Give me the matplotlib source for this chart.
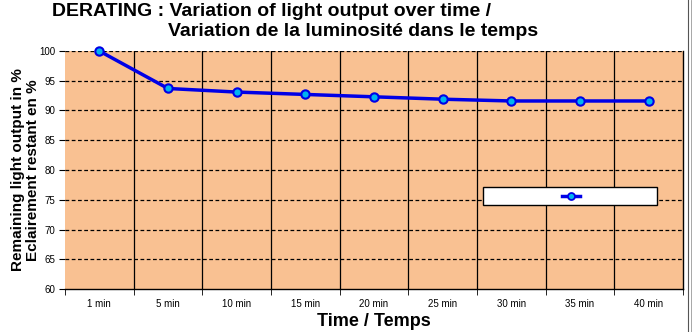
import matplotlib
matplotlib.use("Agg")
import matplotlib.pyplot as plt
from matplotlib.lines import Line2D
from matplotlib.patches import Rectangle
import numpy as np

categories = ["1 min", "5 min", "10 min", "15 min", "20 min", "25 min", "30 min", "35 min", "40 min"]
values = [100, 93.7, 93.1, 92.7, 92.3, 91.9, 91.6, 91.6, 91.6]
yticks = [60, 65, 70, 75, 80, 85, 90, 95, 100]

plt.rcParams['font.family'] = ['Liberation Sans', 'DejaVu Sans']

fig = plt.figure(figsize=(6.92, 3.32), dpi=100)
W, H = 692, 332
ax = fig.add_axes([65/W, 43/H, 618/W, 238/H])
ax.set_facecolor('#F9C192')

x = np.arange(len(categories))
ax.set_xlim(-0.5, len(categories) - 0.5)
ax.set_ylim(60, 100)

# gridlines
for yt in yticks[1:]:
    ax.axhline(yt, color='black', lw=0.9, ls=(0, (3, 2)), zorder=1)
for b in np.arange(0.5, len(categories) - 0.5, 1):
    ax.axvline(b, color='black', lw=0.9, zorder=1)

ax.plot(x, values, color='#0000E6', lw=2.5, marker='o', ms=6,
        markerfacecolor='#00B4F0', markeredgecolor='#0000E6', markeredgewidth=1.5,
        zorder=3, clip_on=False)

ax.set_yticks(yticks)
ax.set_yticklabels([str(v) for v in yticks], fontsize=7)
ax.set_xticks(x)
ax.set_xticklabels(categories, fontsize=7)
ax.tick_params(axis='x', length=0, pad=7)
ax.set_xticks(np.arange(-0.5, len(categories), 1), minor=True)
ax.tick_params(axis='x', which='minor', length=4, direction='out', color='black')
ax.tick_params(axis='y', length=4, direction='out', pad=3)

ax.spines['top'].set_visible(False)
ax.spines['left'].set_visible(False)
ax.spines['right'].set_color('black')
ax.spines['right'].set_linewidth(1.0)
ax.spines['bottom'].set_linewidth(1.0)

ax.set_xlabel("Time / Temps", fontsize=13, fontweight='bold', labelpad=3)
ax.set_ylabel("Remaining light output in %\nEclairement restant en %", fontsize=11,
              fontweight='bold', linespacing=1.1)
ax.yaxis.set_label_coords(-0.041, 0.5)

fig.text(52/W, 1 - 11/H, "DERATING : Variation of light output over time /",
         fontsize=14, fontweight='bold', va='center', ha='left')
fig.text(168/W, 1 - 31/H, "Variation de la luminosité dans le temps",
         fontsize=14, fontweight='bold', va='center', ha='left')

# legend box (series without a name)
ax.add_patch(Rectangle((418/618, 84/238), 174/618, 18/238, transform=ax.transAxes,
                       facecolor='white', edgecolor='black', lw=1.0, zorder=4))
ax.add_line(Line2D([497/618, 515/618], [93/238, 93/238], transform=ax.transAxes,
                   color='#0000E6', lw=2.5, zorder=5))
ax.add_line(Line2D([506/618], [93/238], transform=ax.transAxes, marker='o', ms=5,
                   markerfacecolor='#00B4F0', markeredgecolor='#0000E6', markeredgewidth=1.3,
                   color='#0000E6', zorder=6))

# spreadsheet gridlines at the right edge
fig.add_artist(Line2D([688/W, 688/W], [0, 1], color='#555555', lw=0.8))
fig.add_artist(Line2D([691/W, 691/W], [0, 1], color='#999999', lw=0.6))

fig.savefig("out.png", dpi=100)
